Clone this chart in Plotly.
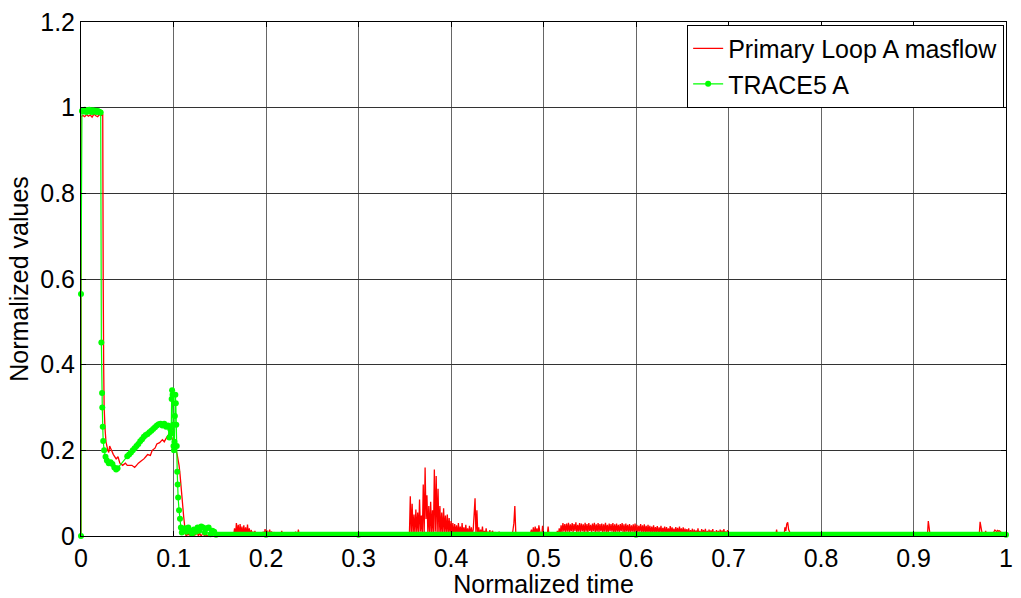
import plotly.graph_objects as go

# ---- Primary Loop A mass flow (normalized) ----
# Transient part: explicit samples
loop_a_t_early = [0.0, 0.0, 0.002, 0.004, 0.006, 0.008, 0.010, 0.012, 0.014, 0.016, 0.018,
                  0.020, 0.022, 0.0235, 0.024, 0.0245, 0.025, 0.026, 0.027, 0.028, 0.029,
                  0.030, 0.031, 0.032, 0.033, 0.035, 0.038, 0.040, 0.042, 0.045, 0.048,
                  0.050, 0.055, 0.058, 0.060, 0.062, 0.065, 0.068, 0.070, 0.072, 0.075,
                  0.077, 0.080, 0.082, 0.085, 0.088, 0.090, 0.092, 0.095, 0.097, 0.099,
                  0.100, 0.102, 0.104, 0.106, 0.107, 0.108, 0.109, 0.110, 0.111, 0.112]
loop_a_v_early = [0.0, 0.978, 0.982, 0.979, 0.984, 0.980, 0.983, 0.978, 0.985, 0.981, 0.979,
                  0.984, 0.982, 0.985, 0.60, 0.40, 0.30, 0.25, 0.22, 0.21, 0.20,
                  0.195, 0.21, 0.205, 0.20, 0.19, 0.18, 0.185, 0.17, 0.165, 0.17,
                  0.165, 0.165, 0.16, 0.165, 0.17, 0.175, 0.18, 0.185, 0.19, 0.188,
                  0.20, 0.205, 0.215, 0.218, 0.225, 0.22, 0.228, 0.238, 0.235, 0.225,
                  0.215, 0.205, 0.19, 0.165, 0.145, 0.12, 0.095, 0.07, 0.045, 0.025]

# Low-level flow bursts, sampled every 0.001 (values in thousandths)
loop_a_step = 0.001
loop_a_bursts = [
    (0.113, "3 0 5 2 8 0 3 10 4 0 6 2 12 5 0 8 3 0 4 9 2 0 5 1 0 3 7 0 2 0 4 6 0 1 3 0 5 2 0 0 "
            "3 0 2 0 0 1 0 0"),
    (0.161, "0 2 0 4 1 "
            "18 0 30 4 26 0 28 2 22 0 25 3 20 0 27 2 18 "
            "0 14 3 10 0 12 2 8 0 9 0 6 2 "
            "0 10 0 16 2 13 0 8 15 0 11 0 5 9 0 0 4 "
            "0 0 3 0 12 0 0 0 6 0 0 2 0 "
            "0 0 0 4 0 0 10 0 0 15 0 0 0 2 0 0 0 6 0 0"),
    (0.355, "0 93 5 75 2 "
            "50 3 62 8 55 2 85 10 48 0 "
            "120 5 160 40 95 3 70 0 80 6 "
            "60 2 155 10 140 4 110 0 70 5 "
            "55 0 65 8 48 2 50 5 42 0 "
            "35 2 30 0 28 4 25 0 30 3 "
            "22 0 30 2 20 0 26 4 18 0 "
            "24 0 20 3 15 50 88 0 60 2 "
            "20 0 15 2 22 0 12 3 18 0 "
            "10 0 14 0 8 12 0 5 9 0 "
            "6 0 10 0 0 4 8 0 3 0 "
            "0 5 0 2 0 8 0 14 30 70 "
            "10 0 4 0 0 8 0 0 0 0 "
            "0 0 0 0 0 0 8 15 0 20 "
            "0 22 6 18 0 25 10 0 0 24 "
            "0"),
    (0.504, "0 22 0 0 0 0 0 0 0 0 4 "
            "12 0 18 4 25 8 30 10 28 9 "
            "29 10 31 8 27 11 30 9 28 12 "
            "32 8 26 10 30 9 29 11 27 8 "
            "31 10 28 7 30 12 26 9 29 11 "
            "31 8 27 10 30 9 28 11 29 7 "
            "27 10 31 9 26 8 29 11 28 10 "
            "30 7 27 9 29 10 26 8 28 11 "
            "30 9 27 7 29 10 26 9 28 8 "
            "25 10 27 7 29 9 26 8 24 10 "
            "28 7 25 9 27 6 24 8 26 7 "
            "24 6 22 8 25 5 21 9 23 4 20 7 24 5 19 8 22 4 21 6 "
            "18 5 23 6 20 7 17 4 21 6 19 3 22 5 18 4 20 3 17 5 "
            "16 2 18 1 14 3 17 0 15 4 13 1 18 2 12 0 16 3 14 1 17 0 12 "
            "2 15 0 13 3 16 1 11 0 14 2 12 0 15 1 13 0 16 2 11 1 14 "
            "0 8 0 0 6 0 9 0 0 5 0 0 7 0 0 0 8 0 4 0 0 0 9 0 0 "
            "6 0 0 0 8 0 0 5 0 0 0 7 0 0 0 0 6 0 0 0 8 0 0 0 0 "
            "0 0 15 0 0 5 0 0 8 0 0 20 12 28 32 15 10 0 5 0 0 0 0 0 0 8 0 0 0 8 0"),
    (0.914, "0 0 35 18 0 0"),
    (0.970, "0 0 33 20 8 0 0 0 12 0 0 0 0 0 0 0 6 10 14 12 10 13 11 12 10 8 4 0 0"),
]
loop_a_t_end = [1.0]
loop_a_v_end = [0.0]

# ---- TRACE5 A (normalized) ----
trace5_t = [0.0, 0.0, 0.001, 0.002, 0.003, 0.004, 0.005, 0.006, 0.007, 0.008, 0.009, 0.010,
            0.011, 0.012, 0.013, 0.014, 0.015, 0.016, 0.017, 0.018, 0.019, 0.020, 0.0213,
            0.022, 0.0228, 0.023, 0.0235, 0.024, 0.025, 0.0265, 0.028, 0.030, 0.032, 0.034,
            0.036, 0.038, 0.0395, 0.050, 0.052, 0.054, 0.056, 0.058, 0.060, 0.062, 0.064,
            0.066, 0.068, 0.070, 0.072, 0.074, 0.076, 0.078, 0.080, 0.082, 0.084, 0.086,
            0.088, 0.090, 0.092, 0.094, 0.0955, 0.0965, 0.0975, 0.098, 0.0985, 0.099,
            0.0995, 0.100, 0.1005, 0.101, 0.1015, 0.102, 0.1025, 0.103, 0.1035, 0.104,
            0.1045, 0.105, 0.106, 0.107, 0.108, 0.109, 0.110, 0.112, 0.114, 0.116, 0.118,
            0.120, 0.122, 0.124, 0.126, 0.128, 0.130, 0.132, 0.134, 0.136, 0.138, 0.140,
            0.142, 0.144, 0.146, 0.200, 0.300, 0.415, 0.500, 0.520, 0.600, 0.780, 0.910,
            1.0]
trace5_v = [0.0, 0.565, 0.992, 0.994, 0.991, 0.995, 0.993, 0.990, 0.994, 0.992, 0.995, 0.991,
            0.993, 0.990, 0.994, 0.992, 0.991, 0.993, 0.990, 0.992, 0.991, 0.990, 0.989,
            0.452, 0.334, 0.300, 0.255, 0.222, 0.200, 0.185, 0.176, 0.170, 0.172, 0.168,
            0.160, 0.155, 0.158, 0.186, 0.190, 0.195, 0.200, 0.205, 0.210, 0.215, 0.221,
            0.226, 0.232, 0.236, 0.238, 0.242, 0.246, 0.250, 0.254, 0.258, 0.261, 0.262,
            0.258, 0.262, 0.255, 0.258, 0.230, 0.250, 0.240, 0.320, 0.340, 0.330,
            0.260, 0.210, 0.200, 0.220, 0.280, 0.330, 0.310, 0.260, 0.210, 0.150,
            0.120, 0.090, 0.060, 0.040, 0.020, 0.008, 0.012, 0.018, 0.010, 0.020, 0.012,
            0.005, 0.015, 0.010, 0.020, 0.012, 0.022, 0.020, 0.008, 0.018, 0.020, 0.004,
            0.012, 0.010, 0.003, 0.003, 0.003, -0.001, -0.001, -0.001, 0.003, -0.001, -0.001,
            0.003]
# flat zero tail of TRACE5 A (dense markers merge into a thick band)
trace5_tail_t = [0.145, 1.0]
trace5_tail_v = [0.004, 0.004]

x_ticks = [0, 0.1, 0.2, 0.3, 0.4, 0.5, 0.6, 0.7, 0.8, 0.9, 1.0]
x_tick_text = ["0", "0.1", "0.2", "0.3", "0.4", "0.5", "0.6", "0.7", "0.8", "0.9", "1"]
y_ticks = [0, 0.2, 0.4, 0.6, 0.8, 1.0, 1.2]
y_tick_text = ["0", "0.2", "0.4", "0.6", "0.8", "1", "1.2"]

# assemble the mass-flow series
loop_a_t = list(loop_a_t_early)
loop_a_v = list(loop_a_v_early)
for start, milli in loop_a_bursts:
    vals = [int(s) / 1000.0 for s in milli.split()]
    loop_a_t += [round(start + i * loop_a_step, 4) for i in range(len(vals))]
    loop_a_v += vals
loop_a_t += loop_a_t_end
loop_a_v += loop_a_v_end

FONT = "Liberation Sans, Arial, sans-serif"
FS = 25
RED = "#ff0000"
GREEN = "#00ff00"

fig = go.Figure()
fig.add_trace(go.Scatter(
    x=loop_a_t, y=loop_a_v, mode="lines", name="Primary Loop A masflow",
    line=dict(color=RED, width=1.3, simplify=False)))
fig.add_trace(go.Scatter(
    x=trace5_tail_t, y=trace5_tail_v, mode="lines", showlegend=False,
    line=dict(color=GREEN, width=5), hoverinfo="skip"))
fig.add_trace(go.Scatter(
    x=trace5_t, y=trace5_v, mode="lines+markers", name="TRACE5 A",
    line=dict(color=GREEN, width=1.2, simplify=False),
    marker=dict(color=GREEN, size=6), cliponaxis=False))

axis_common = dict(
    showline=True, linecolor="black", linewidth=1, mirror="allticks",
    ticks="inside", ticklen=5, tickcolor="black", tickwidth=1,
    showgrid=True, gridwidth=1, zeroline=False,
    tickfont=dict(family=FONT, size=FS, color="black"),
)
fig.update_xaxes(range=[0, 1], tickvals=x_ticks, ticktext=x_tick_text,
                 gridcolor="#666666",
                 title=dict(text="Normalized time", font=dict(family=FONT, size=FS, color="black"),
                            standoff=0),
                 **axis_common)
fig.update_yaxes(range=[0, 1.2], tickvals=y_ticks, ticktext=y_tick_text,
                 gridcolor="#333333",
                 title=dict(text="Normalized values", font=dict(family=FONT, size=FS, color="black"),
                            standoff=4),
                 **axis_common)

fig.update_layout(
    width=1021, height=598,
    margin=dict(l=81, r=8, t=19, b=62),
    paper_bgcolor="white", plot_bgcolor="white",
    font=dict(family=FONT, size=FS, color="black"),
    legend=dict(x=0.998, y=0.995, xanchor="right", yanchor="top",
                bgcolor="white", bordercolor="black", borderwidth=1,
                font=dict(family=FONT, size=25, color="black"),
                tracegroupgap=0, itemwidth=30),
    showlegend=True,
)

fig.write_html("out.html")
